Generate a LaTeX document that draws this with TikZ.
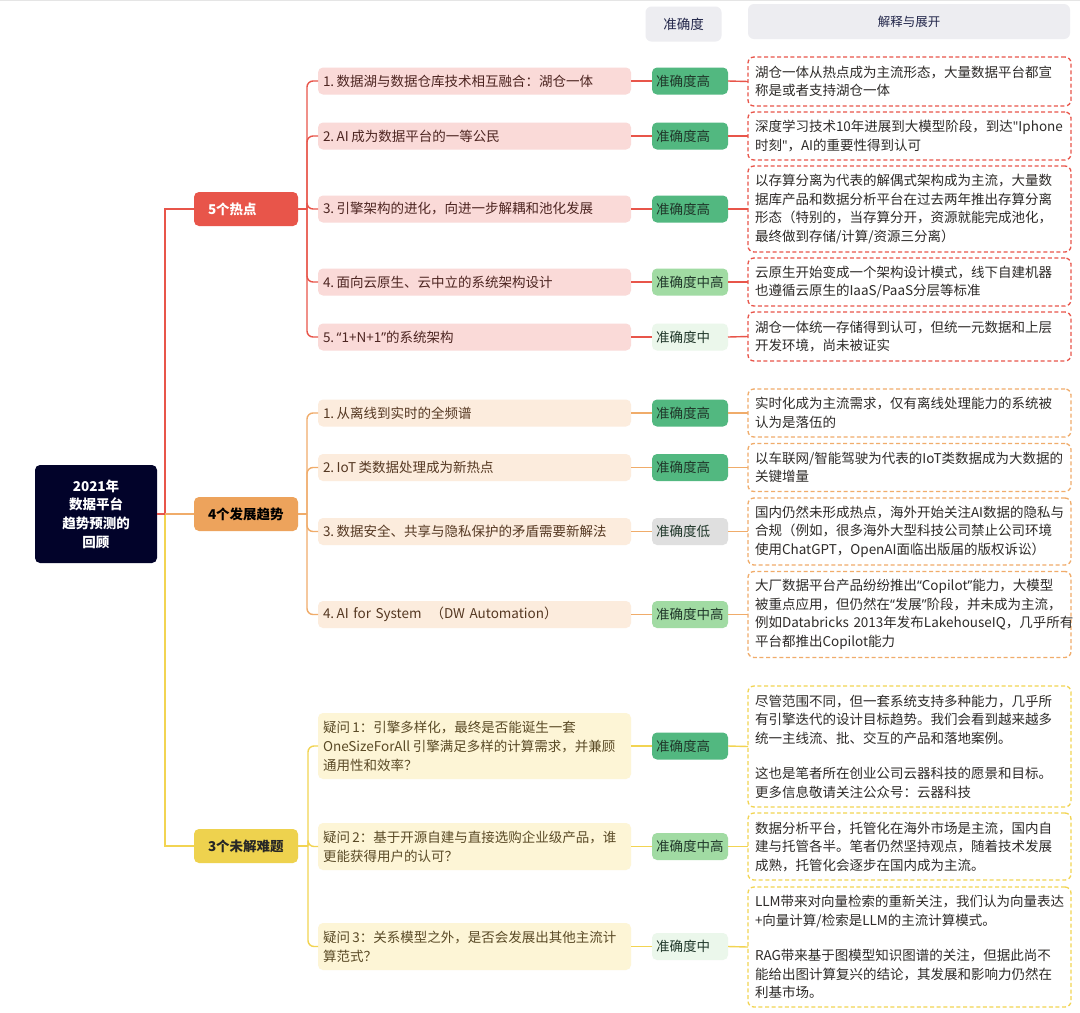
\documentclass[tikz,border=0pt]{standalone}
\usepackage{fontspec}
\setmainfont{Noto Sans CJK SC}[WordSpace=0.55]
\newfontfamily\qfont{Noto Sans}
\newcommand\myoq{{\qfont “}}
\newcommand\mycq{{\qfont ”}}
\newcommand\mysq{{\qfont "}}
\newcommand\tsp{\hspace*{2.5pt}}
\hyphenpenalty=10000
\exhyphenpenalty=10000
\definecolor{rootc}{HTML}{02032A}
\definecolor{redc}{HTML}{E8554A}
\definecolor{orc}{HTML}{EDA35C}
\definecolor{orl}{HTML}{F0AC6A}
\definecolor{yelc}{HTML}{EED24E}
\definecolor{yell}{HTML}{F2D452}
\definecolor{pinkc}{HTML}{FADAD8}
\definecolor{pinkt}{HTML}{4D2521}
\definecolor{peachc}{HTML}{FCECDD}
\definecolor{peacht}{HTML}{553822}
\definecolor{lyelc}{HTML}{FDF5D6}
\definecolor{lyelt}{HTML}{5A4A26}
\definecolor{hic}{HTML}{52B880}
\definecolor{mhic}{HTML}{A1DBA3}
\definecolor{midc}{HTML}{EBF7EB}
\definecolor{lowc}{HTML}{DFDFDF}
\definecolor{acct}{HTML}{20372A}
\definecolor{headc}{HTML}{EDEDF1}
\definecolor{headt}{HTML}{22264A}
\definecolor{notet}{HTML}{2E2B29}
\begin{document}
\begin{tikzpicture}[x=1pt,y=-1pt,
  every node/.style={inner sep=0pt,outer sep=0pt},
  fs/.style={font=\fontsize{13.5}{18.5}\selectfont},
  rootbox/.style={fs,font=\fontsize{13.5}{18.7}\selectfont\bfseries,fill=rootc,text=white,rounded corners=5pt,minimum width=122pt,minimum height=98pt,align=center},
  catbox/.style={fs,font=\fontsize{13.5}{18.5}\selectfont\bfseries,anchor=west,minimum height=34pt,text width=76pt,inner xsep=14pt,align=left,rounded corners=5pt},
  kid/.style={fs,anchor=west,minimum height=27pt,text width=303pt,inner xsep=5pt,align=left,rounded corners=5pt},
  acc/.style={fs,anchor=west,minimum height=27pt,text width=68pt,inner xsep=4pt,align=left,rounded corners=5pt,text=acct},
  note/.style={fs,anchor=west,text width=309pt,inner xsep=7pt,align=left,rounded corners=6pt,fill=white,text=notet,line width=1.3pt,dash pattern=on 4pt off 2.6pt},
  headbox/.style={fill=headc,text=headt,rounded corners=6pt},
  rl/.style={draw=redc,line width=1.4pt},
  ol/.style={draw=orl,line width=1.4pt},
  yl/.style={draw=yell,line width=1.4pt},
  br/.style={rounded corners=6pt}
]
\useasboundingbox (0,0) rectangle (1080,1013);
\fill[white] (0,0) rectangle (1080,1013);
\draw[line width=2pt,draw=black!10] (0,0) -- (1080,0);

% headers
\node[headbox,fs,minimum width=76pt,minimum height=35pt] (h1) at (683.5,24) {准确度};
\node[headbox,font=\fontsize{12.5}{15}\selectfont,minimum width=322pt,minimum height=35pt] (h2) at (909,21.5) {解释与展开};

% root and categories
\node[rootbox] (root) at (96,514) {2021年\\数据平台\\趋势预测的\\回顾};
\node[catbox,fill=redc,text=white] (c1) at (194,209) {5个热点};
\node[catbox,fill=orc,text=black] (c2) at (194,514) {4个发展趋势};
\node[catbox,fill=yelc,text=black!85] (c3) at (194,846) {3个未解难题};

\draw[yl] (root.east) -- (165,514) -- (165,846) -- (c3.west);
\draw[rl] (root.east) -- (165,514) -- (165,209) -- (c1.west);
\draw[ol] (165,514) -- (c2.west);

% ---------- section 1 ----------
\node[kid,fill=pinkc,text=pinkt] (k11) at (318,81) {1.\tsp 数据湖与数据仓库技术相互融合：湖仓一体};
\node[kid,fill=pinkc,text=pinkt] (k12) at (318,136) {2.\tsp AI\tsp 成为数据平台的一等公民};
\node[kid,fill=pinkc,text=pinkt] (k13) at (318,209) {3.\tsp 引擎架构的进化，向进一步解耦和池化发展};
\node[kid,fill=pinkc,text=pinkt] (k14) at (318,282) {4.\tsp 面向云原生、云中立的系统架构设计};
\node[kid,fill=pinkc,text=pinkt] (k15) at (318,337) {5.\tsp\myoq1+N+1\mycq 的系统架构};

\node[acc,fill=hic] (a11) at (652,81) {准确度高};
\node[acc,fill=hic] (a12) at (652,136) {准确度高};
\node[acc,fill=hic] (a13) at (652,209) {准确度高};
\node[acc,fill=mhic] (a14) at (652,282) {准确度中高};
\node[acc,fill=midc] (a15) at (652,337) {准确度中};

\node[note,draw=redc,minimum height=49pt] (n11) at (748,81.5) {湖仓一体从热点成为主流形态，大量数据平台都宣\\称是或者支持湖仓一体};
\node[note,draw=redc,minimum height=48pt] (n12) at (748,136) {深度学习技术10年进展到大模型阶段，到达\mysq Iphone\\时刻\mysq，AI的重要性得到认可};
\node[note,draw=redc,minimum height=86pt] (n13) at (748,209) {以存算分离为代表的解偶式架构成为主流，大量数\\据库产品和数据分析平台在过去两年推出存算分离\\形态（特别的，当存算分开，资源就能完成池化，\\最终做到存储/计算/资源三分离）};
\node[note,draw=redc,minimum height=48pt] (n14) at (748,282) {云原生开始变成一个架构设计模式，线下自建机器\\也遵循云原生的IaaS/PaaS分层等标准};
\node[note,draw=redc,minimum height=49pt] (n15) at (748,336.5) {湖仓一体统一存储得到认可，但统一元数据和上层\\开发环境，尚未被证实};

\draw[rl] (c1.east) -- (307,209);
\foreach \i in {1,...,5} {
  \draw[rl,br] (307,209) |- (k1\i.west);
  \draw[rl] (k1\i.east) -- (a1\i.west);
  \draw[rl] (a1\i.east) -- (n1\i.west);
}

% ---------- section 2 ----------
\node[kid,fill=peachc,text=peacht] (k21) at (318,413) {1.\tsp 从离线到实时的全频谱};
\node[kid,fill=peachc,text=peacht] (k22) at (318,467.5) {2.\tsp IoT\tsp 类数据处理成为新热点};
\node[kid,fill=peachc,text=peacht] (k23) at (318,531.5) {3.\tsp 数据安全、共享与隐私保护的矛盾需要新解法};
\node[kid,fill=peachc,text=peacht] (k24) at (318,614.5) {4.\tsp AI for System~~（DW Automation）};

\node[acc,fill=hic] (a21) at (652,413) {准确度高};
\node[acc,fill=hic] (a22) at (652,467.5) {准确度高};
\node[acc,fill=lowc] (a23) at (652,531.5) {准确度低};
\node[acc,fill=mhic] (a24) at (652,614.5) {准确度中高};

\node[note,draw=orl,minimum height=48pt] (n21) at (748,413) {实时化成为主流需求，仅有离线处理能力的系统被\\认为是落伍的};
\node[note,draw=orl,minimum height=48pt] (n22) at (748,467.5) {以车联网/智能驾驶为代表的IoT类数据成为大数据的\\关键增量};
\node[note,draw=orl,minimum height=67pt] (n23) at (748,531.5) {国内仍然未形成热点，海外开始关注AI数据的隐私与\\合规（例如，很多海外大型科技公司禁止公司环境\\使用ChatGPT，OpenAI面临出版届的版权诉讼）};
\node[note,draw=orl,minimum height=86pt] (n24) at (748,614.5) {大厂数据平台产品纷纷推出\myoq Copilot\mycq 能力，大模型\\被重点应用，但仍然在\myoq 发展\mycq 阶段，并未成为主流，\\例如Databricks~2013年发布LakehouseIQ，几乎所有\\平台都推出Copilot能力};

\draw[ol] (c2.east) -- (307,514);
\foreach \i in {1,...,4} {
  \draw[ol,br] (307,514) |- (k2\i.west);
  \draw[ol] (k2\i.east) -- (a2\i.west);
  \draw[ol] (a2\i.east) -- (n2\i.west);
}

% ---------- section 3 ----------
\node[kid,fill=lyelc,text=lyelt,minimum height=66pt,font=\fontsize{13.5}{19}\selectfont] (k31) at (318,746) {疑问\tsp 1：引擎多样化，最终是否能诞生一套\\OneSizeForAll\tsp 引擎满足多样的计算需求，并兼顾\\通用性和效率？};
\node[kid,fill=lyelc,text=lyelt,minimum height=47pt,font=\fontsize{13.5}{19}\selectfont] (k32) at (318,846.5) {疑问\tsp 2：基于开源自建与直接选购企业级产品，谁\\更能获得用户的认可？};
\node[kid,fill=lyelc,text=lyelt,minimum height=47pt,font=\fontsize{13.5}{19}\selectfont] (k33) at (318,946.5) {疑问\tsp 3：关系模型之外，是否会发展出其他主流计\\算范式？};

\node[acc,fill=hic] (a31) at (652,746) {准确度高};
\node[acc,fill=mhic] (a32) at (652,846.5) {准确度中高};
\node[acc,fill=midc] (a33) at (652,946.5) {准确度中};

\node[note,draw=yell,minimum height=121pt] (n31) at (748,746.5) {尽管范围不同，但一套系统支持多种能力，几乎所\\有引擎迭代的设计目标趋势。我们会看到越来越多\\统一主线流、批、交互的产品和落地案例。\\[17pt]这也是笔者所在创业公司云器科技的愿景和目标。\\更多信息敬请关注公众号：云器科技};
\node[note,draw=yell,minimum height=67pt] (n32) at (748,846.5) {数据分析平台，托管化在海外市场是主流，国内自\\建与托管各半。笔者仍然坚持观点，随着技术发展\\成熟，托管化会逐步在国内成为主流。};
\node[note,draw=yell,minimum height=120pt] (n33) at (748,947) {LLM带来对向量检索的重新关注，我们认为向量表达\\+向量计算/检索是LLM的主流计算模式。\\[17pt]RAG带来基于图模型知识图谱的关注，但据此尚不\\能给出图计算复兴的结论，其发展和影响力仍然在\\利基市场。};

\draw[yl] (c3.east) -- (308,846);
\foreach \i in {1,...,3} {
  \draw[yl,br] (308,846) |- (k3\i.west);
  \draw[yl] (k3\i.east) -- (a3\i.west);
  \draw[yl] (a3\i.east) -- (n3\i.west);
}
\end{tikzpicture}
\end{document}
